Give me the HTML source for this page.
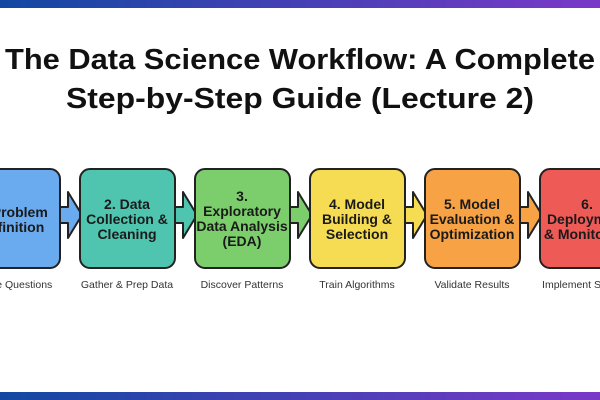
<!DOCTYPE html>
<html><head><style>body{margin:0;background:#fff}svg{display:block}</style></head><body>
<svg width="600" height="400" viewBox="0 0 600 400" xmlns="http://www.w3.org/2000/svg" font-family="Liberation Sans, sans-serif">
<defs><linearGradient id="g" x1="0" x2="1"><stop offset="0" stop-color="#1248a2"/><stop offset="1" stop-color="#7a38c8"/></linearGradient></defs>
<rect x="0" y="0" width="600" height="8" fill="url(#g)"/>
<rect x="0" y="392" width="600" height="8" fill="url(#g)"/>
<text x="300" y="69" text-anchor="middle" font-size="29" font-weight="bold" fill="#111" textLength="590" lengthAdjust="spacingAndGlyphs">The Data Science Workflow: A Complete</text>
<text x="300" y="108" text-anchor="middle" font-size="29" font-weight="bold" fill="#111" textLength="468" lengthAdjust="spacingAndGlyphs">Step-by-Step Guide (Lecture 2)</text>
<g stroke="#222" stroke-width="2" stroke-linejoin="round">
<path d="M59 207 H68 V192 L82 215 L68 238 V223 H59 Z" fill="#6aabf0"/>
<path d="M174 207 H183 V192 L197 215 L183 238 V223 H174 Z" fill="#4fc5b0"/>
<path d="M289 207 H298 V192 L312 215 L298 238 V223 H289 Z" fill="#7cce6c"/>
<path d="M404 207 H413 V192 L427 215 L413 238 V223 H404 Z" fill="#f5dc52"/>
<path d="M519 207 H528 V192 L542 215 L528 238 V223 H519 Z" fill="#f7a244"/>
<rect x="-35" y="169" width="95" height="99" rx="10" fill="#6aabf0"/>
<rect x="80" y="169" width="95" height="99" rx="10" fill="#4fc5b0"/>
<rect x="195" y="169" width="95" height="99" rx="10" fill="#7cce6c"/>
<rect x="310" y="169" width="95" height="99" rx="10" fill="#f5dc52"/>
<rect x="425" y="169" width="95" height="99" rx="10" fill="#f7a244"/>
<rect x="540" y="169" width="95" height="99" rx="10" fill="#ee5a55"/>
</g>
<g font-size="14" font-weight="bold" fill="#1a1a1a" text-anchor="middle">
<text x="12" y="217">1. Problem</text><text x="12" y="232">Definition</text>
<text x="127" y="209">2. Data</text><text x="127" y="224">Collection &amp;</text><text x="127" y="239">Cleaning</text>
<text x="242" y="201">3.</text><text x="242" y="216">Exploratory</text><text x="242" y="231">Data Analysis</text><text x="242" y="246">(EDA)</text>
<text x="357" y="209">4. Model</text><text x="357" y="224">Building &amp;</text><text x="357" y="239">Selection</text>
<text x="472" y="209">5. Model</text><text x="472" y="224">Evaluation &amp;</text><text x="472" y="239">Optimization</text>
<text x="587" y="209">6.</text><text x="587" y="224">Deployment</text><text x="587" y="239">&amp; Monitoring</text>
</g>
<g font-size="10.5" fill="#333" text-anchor="middle">
<text x="12" y="288">Define Questions</text>
<text x="127" y="288">Gather &amp; Prep Data</text>
<text x="242" y="288">Discover Patterns</text>
<text x="357" y="288">Train Algorithms</text>
<text x="472" y="288">Validate Results</text>
<text x="587" y="288">Implement Solution</text>
</g>
</svg>
</body></html>
